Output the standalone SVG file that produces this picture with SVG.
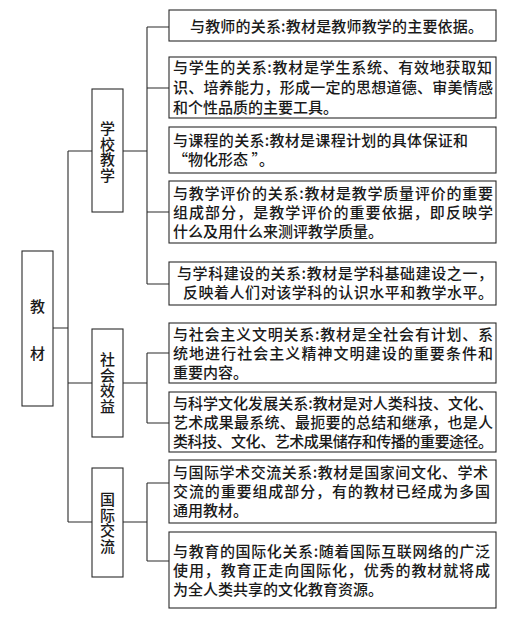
<svg xmlns="http://www.w3.org/2000/svg" width="514" height="619" viewBox="0 0 514 619">
<style>
.box{fill:#fff;stroke:#2a2a2a;stroke-width:1.1}
.t{font-family:"Noto Sans CJK SC","Noto Sans",sans-serif;font-size:15px;font-weight:500;fill:#1a1a1a}
.v{font-family:"Noto Sans CJK SC","Noto Sans",sans-serif;font-size:15px;font-weight:500;fill:#1a1a1a;text-anchor:middle}
.vv{font-family:"Noto Sans CJK SC","Noto Sans",sans-serif;font-size:15px;font-weight:500;fill:#1a1a1a;text-anchor:middle;writing-mode:vertical-rl;letter-spacing:0.5px}
.c{fill:none;stroke:#2a2a2a;stroke-width:1.1}
</style>
<rect width="514" height="619" fill="#fff"/>
<g id="connectors">
<path class="c" d="M53,328H68M68,151V522M68,151H92M68,383H92M68,522H92"/>
<path class="c" d="M123,151H147M147,27V284M147,27H169M147,88H169M147,212H169M147,284H169"/>
<path class="c" d="M123,383H147M147,353V423M147,353H169M147,423H169"/>
<path class="c" d="M123,522H147M147,483V561M147,483H169M147,561H169"/>
</g>
<g id="root">
<rect class="box" x="22" y="251" width="31" height="155"/>
<text class="v" x="37.5" y="312">教</text>
<text class="v" x="37.5" y="359">材</text>
</g>
<g id="school">
<rect class="box" x="92" y="89" width="31" height="123"/>
<text class="vv" x="107.5" y="152">学校教学</text>
</g>
<g id="social">
<rect class="box" x="92" y="329" width="31" height="108"/>
<text class="vv" x="107.5" y="383">社会效益</text>
</g>
<g id="intl">
<rect class="box" x="92" y="468" width="31" height="109"/>
<text class="vv" x="107.5" y="523">国际交流</text>
</g>
<g id="b1">
<rect class="box" x="169" y="10" width="327" height="31"/>
<text class="t" x="190" y="31.5" textLength="293" lengthAdjust="spacing">与教师的关系:教材是教师教学的主要依据。</text>
</g>
<g id="b2">
<rect class="box" x="169" y="57" width="327" height="61"/>
<text class="t" x="173" y="73" textLength="319" lengthAdjust="spacing">与学生的关系:教材是学生系统、有效地获取知</text>
<text class="t" x="173" y="93" textLength="320" lengthAdjust="spacing">识、培养能力，形成一定的思想道德、审美情感</text>
<text class="t" x="173" y="113">和个性品质的主要工具。</text>
</g>
<g id="b3">
<rect class="box" x="169" y="127" width="327" height="46"/>
<text class="t" x="173" y="145.5" textLength="295" lengthAdjust="spacing">与课程的关系:教材是课程计划的具体保证和</text>
<text class="t" x="173" y="164.5">“物化形态 ”。</text>
</g>
<g id="b4">
<rect class="box" x="169" y="181" width="327" height="62"/>
<text class="t" x="173" y="198.5" textLength="320" lengthAdjust="spacing">与教学评价的关系:教材是教学质量评价的重要</text>
<text class="t" x="173" y="217.5" textLength="320" lengthAdjust="spacing">组成部分，是教学评价的重要依据，即反映学</text>
<text class="t" x="173" y="236.5">什么及用什么来测评教学质量。</text>
</g>
<g id="b5">
<rect class="box" x="169" y="262" width="327" height="43"/>
<text class="t" x="177" y="278.5" textLength="316" lengthAdjust="spacing">与学科建设的关系:教材是学科基础建设之一，</text>
<text class="t" x="183" y="297.5" textLength="310" lengthAdjust="spacing">反映着人们对该学科的认识水平和教学水平。</text>
</g>
<g id="b6">
<rect class="box" x="169" y="323" width="327" height="60"/>
<text class="t" x="173" y="339.5" textLength="320" lengthAdjust="spacing">与社会主义文明关系:教材是全社会有计划、系</text>
<text class="t" x="173" y="358.5" textLength="320" lengthAdjust="spacing">统地进行社会主义精神文明建设的重要条件和</text>
<text class="t" x="173" y="377.5">重要内容。</text>
</g>
<g id="b7">
<rect class="box" x="169" y="392" width="327" height="60"/>
<text class="t" x="173" y="408.5" textLength="320" lengthAdjust="spacing">与科学文化发展关系:教材是对人类科技、文化、</text>
<text class="t" x="173" y="427.5" textLength="320" lengthAdjust="spacing">艺术成果最系统、最扼要的总结和继承，也是人</text>
<text class="t" x="173" y="446.5" textLength="320" lengthAdjust="spacing">类科技、文化、艺术成果储存和传播的重要途径。</text>
</g>
<g id="b8">
<rect class="box" x="169" y="460" width="327" height="63"/>
<text class="t" x="173" y="477.5" textLength="315" lengthAdjust="spacing">与国际学术交流关系:教材是国家间文化、学术</text>
<text class="t" x="173" y="496.5" textLength="317" lengthAdjust="spacing">交流的重要组成部分，有的教材已经成为多国</text>
<text class="t" x="173" y="515.5">通用教材。</text>
</g>
<g id="b9">
<rect class="box" x="169" y="532" width="327" height="76"/>
<text class="t" x="173" y="556.5" textLength="317" lengthAdjust="spacing">与教育的国际化关系:随着国际互联网络的广泛</text>
<text class="t" x="173" y="575.5" textLength="317" lengthAdjust="spacing">使用，教育正走向国际化，优秀的教材就将成</text>
<text class="t" x="173" y="594.5">为全人类共享的文化教育资源。</text>
</g>
</svg>
